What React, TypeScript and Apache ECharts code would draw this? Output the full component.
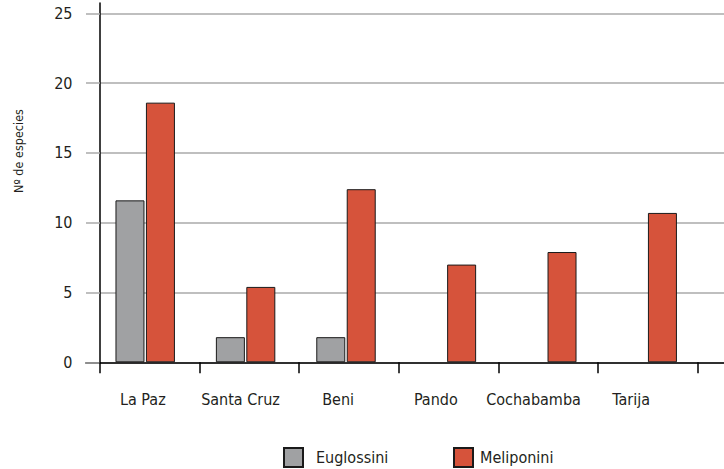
import React, { useEffect, useRef } from "react";
import * as echarts from "echarts";

const categories = ["La Paz", "Santa Cruz", "Beni", "Pando", "Cochabamba", "Tarija"];
const euglossini: (number | null)[] = [11.6, 1.8, 1.8, null, null, null];
const meliponini = [18.6, 5.4, 12.4, 7.0, 7.9, 10.7];
const yTicks = { min: 0, max: 25, interval: 5 };
const yTitle = "Nº de especies";

const FONT = "'DejaVu Sans Condensed', 'Liberation Sans', sans-serif";
const TEXT = "#231f20";
const GRAY = "#a0a1a3";
const RED = "#d6533b";
const BORDER = "#1a1a1a";
const GRID_GRAY = "#aaaaaa";

export default function App() {
  const ref = useRef<HTMLDivElement>(null);
  useEffect(() => {
    if (!ref.current) return;
    const chart = echarts.init(ref.current, null, { renderer: "svg" });
    const hidden = {
      axisLine: { show: false },
      axisTick: { show: false },
      axisLabel: { show: false },
      splitLine: { show: false },
    };
    chart.setOption({
      animation: false,
      backgroundColor: "#ffffff",
      grid: [
        { left: 100, top: 13.3, width: 624, height: 349, outerBoundsMode: "none" },
        { left: 100, top: 3, width: 597.6, height: 359.3, outerBoundsMode: "none" },
        { left: 95, top: 13.3, width: 602.4, height: 349, outerBoundsMode: "none" },
        { left: 94, top: 13.3, width: 586, height: 349, outerBoundsMode: "none" },
        { left: 86, top: 13.3, width: 14, height: 349, outerBoundsMode: "none" },
      ],
      xAxis: [
        {
          gridIndex: 0,
          type: "value",
          min: 0,
          max: 1,
          axisLine: { show: true, lineStyle: { color: "#000", width: 1.5 } },
          axisTick: { show: false },
          axisLabel: { show: false },
          splitLine: { show: false },
        },
        {
          gridIndex: 1,
          type: "category",
          data: categories,
          boundaryGap: true,
          axisLine: { show: false },
          axisTick: { show: true, length: 11, lineStyle: { color: "#000", width: 1.5 } },
          axisLabel: { show: false },
          splitLine: { show: false },
        },
        { gridIndex: 2, type: "category", data: categories, ...hidden },
        {
          gridIndex: 3,
          type: "category",
          data: categories,
          axisLine: { show: false },
          axisTick: { show: false },
          splitLine: { show: false },
          axisLabel: { show: true, margin: 29, fontSize: 16, fontFamily: FONT, color: TEXT, interval: 0 },
        },
        {
          gridIndex: 4,
          type: "value",
          min: 0,
          max: 1,
          axisLine: { show: true, lineStyle: { color: "#000", width: 1.5 } },
          axisTick: { show: false },
          axisLabel: { show: false },
          splitLine: { show: false },
        },
      ],
      yAxis: [
        {
          gridIndex: 0,
          type: "value",
          min: yTicks.min,
          max: yTicks.max,
          interval: yTicks.interval,
          axisLine: { show: false },
          axisTick: { show: true, length: 14, lineStyle: { color: GRID_GRAY, width: 1.5 } },
          axisLabel: { margin: 27.5, fontSize: 16, fontFamily: FONT, color: TEXT },
          splitLine: { show: true, lineStyle: { color: GRID_GRAY, width: 1.5 } },
        },
        {
          gridIndex: 1,
          type: "value",
          min: 0,
          max: 1,
          axisLine: { show: true, lineStyle: { color: "#000", width: 1.5 } },
          axisTick: { show: false },
          axisLabel: { show: false },
          splitLine: { show: false },
        },
        { gridIndex: 2, type: "value", min: yTicks.min, max: yTicks.max, ...hidden },
        { gridIndex: 3, type: "value", min: 0, max: 1, ...hidden },
        { gridIndex: 4, type: "value", min: 0, max: 1, ...hidden },
      ],
      legend: [
        {
          data: ["Euglossini"],
          left: 283,
          top: 447,
          padding: 0,
          itemWidth: 19,
          itemHeight: 19,
          icon: "rect",
          textStyle: { fontSize: 16, fontFamily: FONT, color: TEXT, padding: [0, 0, 0, 8] },
        },
        {
          data: ["Meliponini"],
          left: 453,
          top: 447,
          padding: 0,
          itemWidth: 19,
          itemHeight: 19,
          icon: "rect",
          textStyle: { fontSize: 16, fontFamily: FONT, color: TEXT, padding: [0, 0, 0, 2] },
        },
      ],
      graphic: [
        {
          type: "text",
          x: 18,
          y: 151,
          rotation: Math.PI / 2,
          style: {
            text: yTitle,
            font: `12.5px ${FONT}`,
            fill: TEXT,
            align: "center",
            verticalAlign: "middle",
          },
        },
      ],
      series: [
        {
          name: "Euglossini",
          type: "bar",
          xAxisIndex: 2,
          yAxisIndex: 2,
          data: euglossini,
          barWidth: 29,
          barGap: "5%",
          itemStyle: { color: GRAY, borderColor: BORDER, borderWidth: 1 },
        },
        {
          name: "Meliponini",
          type: "bar",
          xAxisIndex: 2,
          yAxisIndex: 2,
          data: meliponini,
          barWidth: 29,
          barGap: "5%",
          itemStyle: { color: RED, borderColor: BORDER, borderWidth: 1 },
        },
      ],
    });
    return () => chart.dispose();
  }, []);
  return <div ref={ref} style={{ width: 724, height: 469, position: "absolute", left: 0, top: 0 }} />;
}
